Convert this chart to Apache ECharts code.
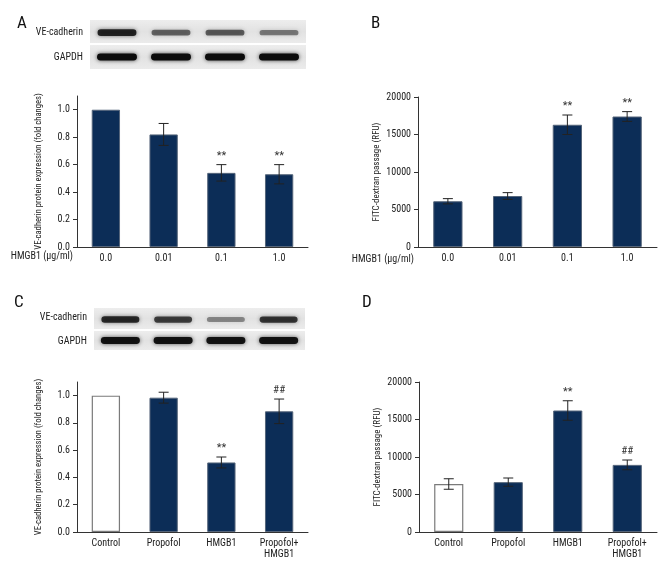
<!DOCTYPE html>
<html>
<head>
<meta charset="utf-8">
<script src="https://cdn.jsdelivr.net/npm/echarts@6/dist/echarts.min.js"></script>
<style>
  html, body { margin: 0; padding: 0; background: #fff; }
  #main { width: 670px; height: 580px; }
</style>
</head>
<body>
<div id="main"></div>
<script>
// categories
var doseCats = ['0.0', '0.01', '0.1', '1.0']
var groupCats = ['Control', 'Propofol', 'HMGB1', 'Propofol+\nHMGB1']

// A: VE-cadherin fold change vs HMGB1 dose
var veDoseMean = [1.0, 0.82, 0.54, 0.53]
var veDoseErr = [0, 0.08, 0.06, 0.07]
var veDoseMark = ['', '', '**', '**']

// B: FITC-dextran vs HMGB1 dose
var fitcDoseMean = [6100, 6800, 16300, 17400]
var fitcDoseErr = [350, 450, 1300, 650]
var fitcDoseMark = ['', '', '**', '**']

// C: VE-cadherin fold change by group
var veGroupMean = [1.0, 0.985, 0.51, 0.885]
var veGroupErr = [0, 0.04, 0.04, 0.09]
var veGroupMark = ['', '', '**', '##']

// D: FITC-dextran by group
var fitcGroupMean = [6400, 6650, 16200, 8950]
var fitcGroupErr = [700, 550, 1300, 650]
var fitcGroupMark = ['', '', '**', '##']

// tick labels
var foldTicks = [0, 0.2, 0.4, 0.6, 0.8, 1.0]

// blot band intensities (per lane)
var blotA_ve = [0.95, 0.62, 0.66, 0.52]
var blotA_gapdh = [1, 1, 1, 1]
var blotC_ve = [0.92, 0.8, 0.45, 0.85]
var blotC_gapdh = [0.95, 0.95, 0.95, 0.95]

var FONT = "'Roboto Condensed', 'DejaVu Sans Condensed', sans-serif"
var NAVY = '#0c2d57'
var AXIS = '#333'

var chartDom = document.getElementById('main')
var myChart = echarts.init(chartDom)

var grids = [
  { left: 77, top: 96, width: 231, height: 151 },
  { left: 418, top: 97, width: 239, height: 150 },
  { left: 77, top: 382, width: 231, height: 150 },
  { left: 419, top: 382, width: 238, height: 150 }
]

function xAxisFor (i, cats) {
  return {
    type: 'category',
    gridIndex: i,
    data: cats,
    axisTick: { show: false },
    axisLine: { lineStyle: { color: AXIS, width: 1 } },
    axisLabel: { color: '#222', fontSize: 10, fontFamily: FONT, margin: 6, lineHeight: 11 }
  }
}

function foldAxis (i) {
  return {
    type: 'value',
    gridIndex: i,
    min: 0,
    max: 1.1,
    name: 'VE-cadherin protein expression (fold changes)',
    nameLocation: 'middle',
    nameGap: 34,
    nameTextStyle: { color: '#222', fontSize: 8.6, fontFamily: FONT },
    splitLine: { show: false },
    axisLine: { show: true, lineStyle: { color: AXIS } },
    axisTick: { show: true, length: 4, customValues: foldTicks, lineStyle: { color: AXIS } },
    axisLabel: {
      customValues: foldTicks,
      color: '#222', fontSize: 10, fontFamily: FONT, margin: 7,
      formatter: function (v) { return v.toFixed(1) }
    }
  }
}

function fitcAxis (i) {
  return {
    type: 'value',
    gridIndex: i,
    min: 0,
    max: 20000,
    interval: 5000,
    name: 'FITC-dextran passage (RFU)',
    nameLocation: 'middle',
    nameGap: 37,
    nameTextStyle: { color: '#222', fontSize: 9, fontFamily: FONT },
    splitLine: { show: false },
    axisLine: { show: true, lineStyle: { color: AXIS } },
    axisTick: { show: true, length: 4, lineStyle: { color: AXIS } },
    axisLabel: {
      color: '#222', fontSize: 10, fontFamily: FONT, margin: 7,
      formatter: function (v) { return String(v) }
    }
  }
}

function barSeries (i, means, whiteFirst) {
  return {
    type: 'bar',
    xAxisIndex: i,
    yAxisIndex: i,
    barWidth: '49%',
    itemStyle: { color: NAVY, borderColor: '#55657a', borderWidth: 1 },
    data: means.map(function (m, k) {
      if (whiteFirst && k === 0) {
        return { value: m, itemStyle: { color: '#fff', borderColor: '#7a7a7a', borderWidth: 1.2 } }
      }
      return m
    }),
    silent: true
  }
}

function errSeries (i, means, errs, marks) {
  return {
    type: 'custom',
    xAxisIndex: i,
    yAxisIndex: i,
    silent: true,
    z: 5,
    data: means.map(function (m, k) { return [k, m, errs[k]] }),
    renderItem: function (params, api) {
      var x = api.value(0)
      var m = api.value(1)
      var e = api.value(2)
      var top = api.coord([x, m + e])
      var bot = api.coord([x, m - e])
      var hw = 5
      var st = { stroke: '#222', lineWidth: 1 }
      var children = []
      if (e > 0) {
        children.push(
          { type: 'line', shape: { x1: top[0], y1: top[1], x2: bot[0], y2: bot[1] }, style: st },
          { type: 'line', shape: { x1: top[0] - hw, y1: top[1], x2: top[0] + hw, y2: top[1] }, style: st },
          { type: 'line', shape: { x1: bot[0] - hw, y1: bot[1], x2: bot[0] + hw, y2: bot[1] }, style: st }
        )
      }
      var mark = marks[params.dataIndex]
      if (mark) {
        children.push({
          type: 'text',
          style: {
            text: mark, x: top[0], y: top[1] - 3,
            textAlign: 'center', textVerticalAlign: 'bottom',
            font: '11px ' + FONT, fill: '#333'
          }
        })
      }
      return { type: 'group', children: children }
    }
  }
}

// western blot drawing
function blot (x, y, w, h1, h2, gap, veInt, gapdhInt, veLabelY, gapdhLabelY) {
  var els = []
  var strip = function (sy, sh) {
    return {
      type: 'rect',
      shape: { x: x, y: sy, width: w, height: sh },
      style: {
        fill: new echarts.graphic.LinearGradient(0, 0, 0, 1, [
          { offset: 0, color: '#ededed' },
          { offset: 0.5, color: '#e2e2e2' },
          { offset: 1, color: '#ebebeb' }
        ])
      },
      silent: true
    }
  }
  els.push(strip(y, h1))
  els.push(strip(y + h1 + gap, h2))
  var lane = w / veInt.length
  var band = function (cx, cy, a, thick, wf) {
    var bw = lane * wf
    return {
      type: 'rect',
      shape: { x: cx - bw / 2, y: cy - thick, width: bw, height: thick * 2, r: thick },
      style: {
        fill: 'rgba(12,12,12,' + a + ')',
        shadowBlur: 4,
        shadowColor: 'rgba(30,30,30,' + (a * 0.8) + ')'
      },
      silent: true
    }
  }
  veInt.forEach(function (a, k) {
    els.push(band(x + lane * (k + 0.5), y + h1 * 0.55, a * 0.9, 1.8 + 1.6 * a, 0.72))
  })
  gapdhInt.forEach(function (a, k) {
    els.push(band(x + lane * (k + 0.5), y + h1 + gap + h2 * 0.5, a, 3.4, 0.74))
  })
  var lbl = function (t, ly) {
    return {
      type: 'text',
      style: {
        text: t, x: x - 7, y: ly, textAlign: 'right', textVerticalAlign: 'middle',
        font: '10px ' + FONT, fill: '#222'
      },
      silent: true
    }
  }
  els.push(lbl('VE-cadherin', veLabelY))
  els.push(lbl('GAPDH', gapdhLabelY))
  return els
}

function panelLetter (t, x, y) {
  return {
    type: 'text',
    style: { text: t, x: x, y: y, font: '17px ' + FONT, fill: '#111', textVerticalAlign: 'top' },
    silent: true
  }
}

function doseLabel (x, y) {
  return {
    type: 'text',
    style: {
      text: 'HMGB1 (\u00b5g/ml)', x: x, y: y, textAlign: 'right', textVerticalAlign: 'middle',
      font: '10px ' + FONT, fill: '#222'
    },
    silent: true
  }
}

var graphics = []
  .concat(blot(90, 20, 216, 23, 24, 2, blotA_ve, blotA_gapdh, 32, 57))
  .concat(blot(94, 308, 211, 21, 19, 2, blotC_ve, blotC_gapdh, 317, 341))
  .concat([
    panelLetter('A', 17, 15),
    panelLetter('B', 371, 15),
    panelLetter('C', 14, 294),
    panelLetter('D', 362, 294),
    doseLabel(73, 256),
    doseLabel(414, 259)
  ])

var option = {
  backgroundColor: '#fff',
  animation: false,
  grid: grids,
  xAxis: [
    xAxisFor(0, doseCats),
    xAxisFor(1, doseCats),
    xAxisFor(2, groupCats),
    xAxisFor(3, groupCats)
  ],
  yAxis: [foldAxis(0), fitcAxis(1), foldAxis(2), fitcAxis(3)],
  series: [
    barSeries(0, veDoseMean, false),
    errSeries(0, veDoseMean, veDoseErr, veDoseMark),
    barSeries(1, fitcDoseMean, false),
    errSeries(1, fitcDoseMean, fitcDoseErr, fitcDoseMark),
    barSeries(2, veGroupMean, true),
    errSeries(2, veGroupMean, veGroupErr, veGroupMark),
    barSeries(3, fitcGroupMean, true),
    errSeries(3, fitcGroupMean, fitcGroupErr, fitcGroupMark)
  ],
  graphic: graphics
}

option && myChart.setOption(option)
</script>
</body>
</html>
